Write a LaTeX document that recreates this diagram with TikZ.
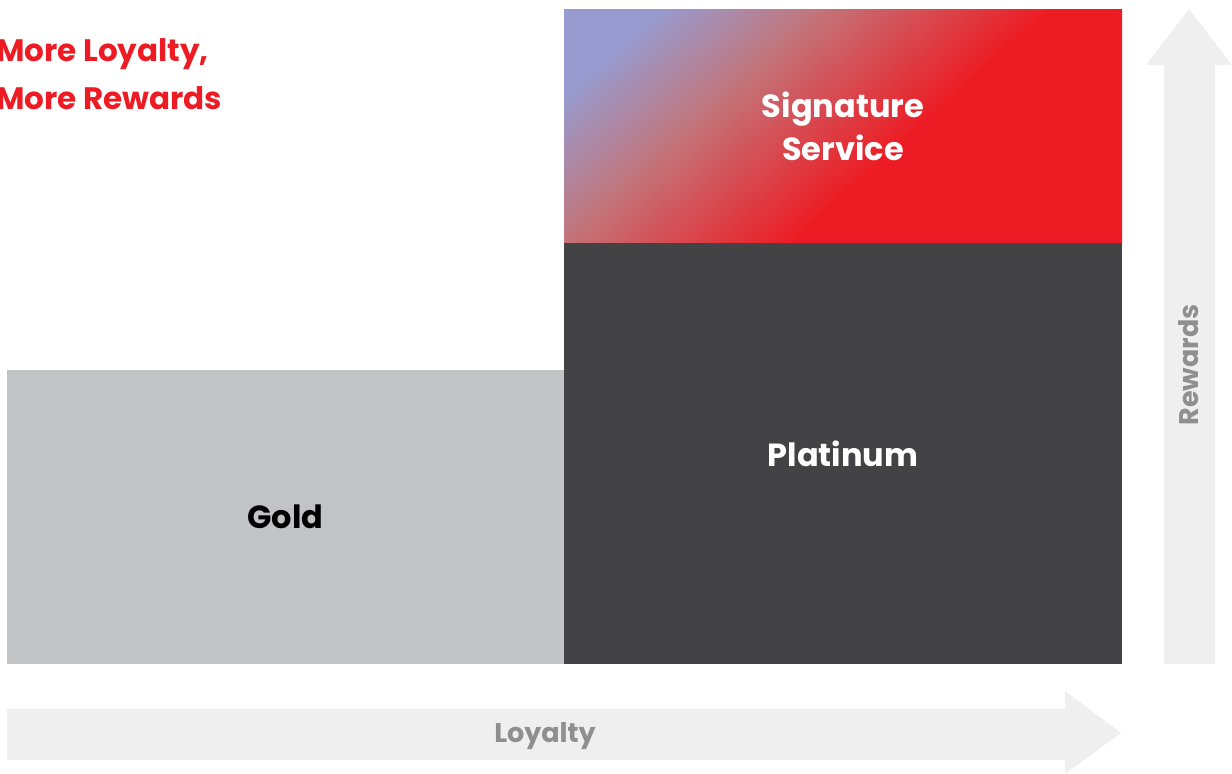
\documentclass[tikz,border=0pt]{standalone}
\usepackage{fontspec}
\setmainfont{Poppins}
\definecolor{sigred}{HTML}{ED1C24}
\definecolor{sigblue}{HTML}{989BCF}
\definecolor{sigmid}{RGB}{195,116,121}
\definecolor{platgray}{HTML}{434345}
\definecolor{goldgray}{HTML}{C2C3C5}
\definecolor{arrowgray}{HTML}{EFEFEF}
\definecolor{labelgray}{HTML}{8F8F8F}
\begin{document}
\begin{tikzpicture}[x=1pt,y=-1pt,
  tier/.style={inner sep=0pt, outer sep=0pt, align=center,
    font=\fontsize{32}{43}\selectfont\bfseries},
  axislabel/.style={inner sep=0pt, text=labelgray,
    font=\fontsize{27}{30}\selectfont\bfseries},
  titletext/.style={inner sep=0pt, anchor=base west, text=sigred,
    font=\fontsize{31}{48}\selectfont\bfseries},
  bigarrow/.style={fill=arrowgray, draw=none}]
\useasboundingbox (0,0) rectangle (1232,774);
% axis arrows
\fill[bigarrow] (7,709) -- (1065,709) -- (1065,691) -- (1121,733) -- (1065,774) -- (1065,760) -- (7,760) -- cycle;
\fill[bigarrow] (1164,664) -- (1164,65) -- (1146,65) -- (1189,9) -- (1232,65) -- (1215,65) -- (1215,664) -- cycle;
% gradient for signature
\begin{scope}
  \clip (564,9) rectangle (1122,243);
  \begin{scope}[transform canvas={rotate around={-48:(843,126)}}]
    \fill[sigblue] (443,-274) rectangle (636,526);
    \shade[left color=sigblue, right color=sigmid] (634,-274) rectangle (744,526);
    \shade[left color=sigmid, right color=sigred] (742,-274) rectangle (895,526);
    \fill[sigred] (893,-274) rectangle (1243,526);
  \end{scope}
\end{scope}
% tiers
\node[tier, fill=goldgray, text=black, minimum width=557pt, minimum height=294pt] (gold) at (285.5,517) {Gold};
\node[tier, fill=platgray, text=white, minimum width=558pt, minimum height=421pt] (plat) at (843,453.5) {Platinum};
\node[tier, text=white, minimum width=558pt, minimum height=234pt] (sig) at (843,126) {Signature\\Service};
% labels
\node[titletext] (title1) at (-4,61) {More Loyalty,};
\node[titletext] (title2) at (-4,109) {More Rewards};
\node[axislabel, rotate=90] (rewards) at (1189,365) {Rewards};
\node[axislabel] (loyalty) at (545,736) {Loyalty};
\end{tikzpicture}
\end{document}
